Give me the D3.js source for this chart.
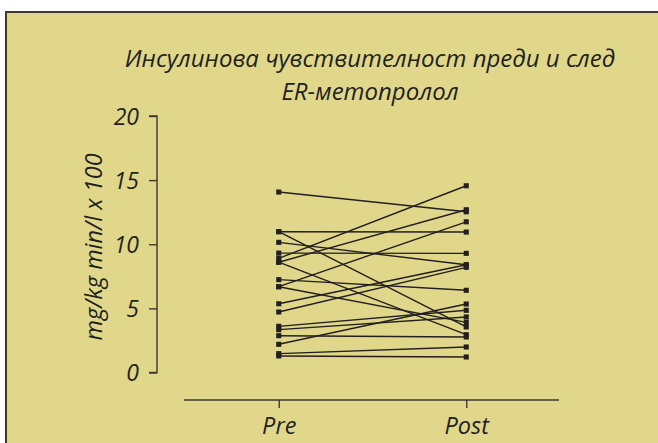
<!DOCTYPE html>
<html>
<head>
<meta charset="utf-8">
<script src="https://cdn.jsdelivr.net/npm/d3@7"></script>
<style>
  html, body { margin: 0; padding: 0; background: #fff; }
  svg { display: block; }
  text { font-family: "Open Sans", "Noto Sans", sans-serif; font-style: italic; fill: #231f20; }
</style>
</head>
<body>
<div id="chart"></div>
<script>
// chart data
const titleLines = ["Инсулинова чувствителност преди и след", "ER-метопролол"];
const yLabel = "mg/kg min/l x 100";
const groups = ["Pre", "Post"];
const yTicks = [0, 5, 10, 15, 20];
const preValues = [14.07, 10.98, 10.98, 10.15, 9.31, 8.9, 8.6, 8.6, 7.24, 6.69, 6.69, 5.36, 4.72, 3.6, 3.34, 2.87, 2.2, 1.47, 1.29];
const postValues = [12.53, 10.95, 3.55, 8.4, 9.29, 14.56, 12.69, 2.95, 6.41, 11.75, 3.91, 8.4, 8.2, 4.85, 4.33, 2.77, 5.34, 1.99, 1.21];

const width = 658;
const height = 443;
const ink = "#231f20";
const font = "'Open Sans', 'Noto Sans', sans-serif";

const svg = d3.select("#chart")
  .append("svg")
  .attr("width", width)
  .attr("height", height);

// panel background + frame (top and left edges only visible)
svg.append("rect")
  .attr("x", 6).attr("y", 12)
  .attr("width", width).attr("height", height)
  .attr("fill", "#e0d78a");
svg.append("path")
  .attr("d", `M6,${height} V12 H${width}`)
  .attr("fill", "none")
  .attr("stroke", "#3d3a33")
  .attr("stroke-width", 2);

const x = d3.scalePoint().domain(groups).range([185, 560]).padding(0.5);
const y = d3.scaleLinear().domain([0, 20]).range([372.5, 116]);

// title, two separate lines
svg.append("g")
  .selectAll("text")
  .data(titleLines)
  .enter()
  .append("text")
  .attr("text-anchor", "middle")
  .attr("font-size", 24)
  .attr("x", 370)
  .attr("y", (d, i) => 67 + i * 33)
  .text((d) => d);

// y axis
const yAxis = svg.append("g")
  .attr("transform", "translate(157,0)")
  .call(d3.axisLeft(y).tickValues(yTicks).tickSize(8).tickPadding(10));
yAxis.selectAll("path, line").attr("stroke", "#3d3a33").attr("stroke-width", 1.4);
yAxis.select(".domain").attr("d", `M-8,${y(20)}H0V${y(0)}H-8`);
yAxis.selectAll("text")
  .attr("font-family", font)
  .attr("font-style", "italic")
  .attr("font-size", 23)
  .attr("fill", ink)
  .attr("dy", "0.36em");

svg.append("text")
  .attr("transform", "translate(102,247) rotate(-90)")
  .attr("text-anchor", "middle")
  .attr("font-size", 23.5)
  .text(yLabel);

// x axis
const xAxis = svg.append("g")
  .attr("transform", "translate(0,400)")
  .call(d3.axisBottom(x).tickSize(8).tickSizeOuter(0));
xAxis.selectAll("path, line").attr("stroke", "#3d3a33").attr("stroke-width", 1.4);
xAxis.select(".domain").attr("d", "M184,0H559");
xAxis.selectAll("text")
  .attr("font-family", font)
  .attr("font-style", "italic")
  .attr("font-size", 23.5)
  .attr("fill", ink)
  .attr("y", 34)
  .attr("dy", 0);

// paired lines
const pairs = preValues.map((v, i) => ({ pre: v, post: postValues[i] }));

svg.append("g")
  .selectAll("line")
  .data(pairs)
  .enter()
  .append("line")
  .attr("x1", x("Pre"))
  .attr("y1", (d) => y(d.pre))
  .attr("x2", x("Post"))
  .attr("y2", (d) => y(d.post))
  .attr("stroke", ink)
  .attr("stroke-width", 1.4);

const square = d3.symbol().type(d3.symbolSquare).size(26);
const points = [];
pairs.forEach((d) => {
  points.push({ g: "Pre", v: d.pre });
  points.push({ g: "Post", v: d.post });
});

svg.append("g")
  .selectAll("path")
  .data(points)
  .enter()
  .append("path")
  .attr("d", square)
  .attr("transform", (d) => `translate(${x(d.g)},${y(d.v)})`)
  .attr("fill", ink);
</script>
</body>
</html>
